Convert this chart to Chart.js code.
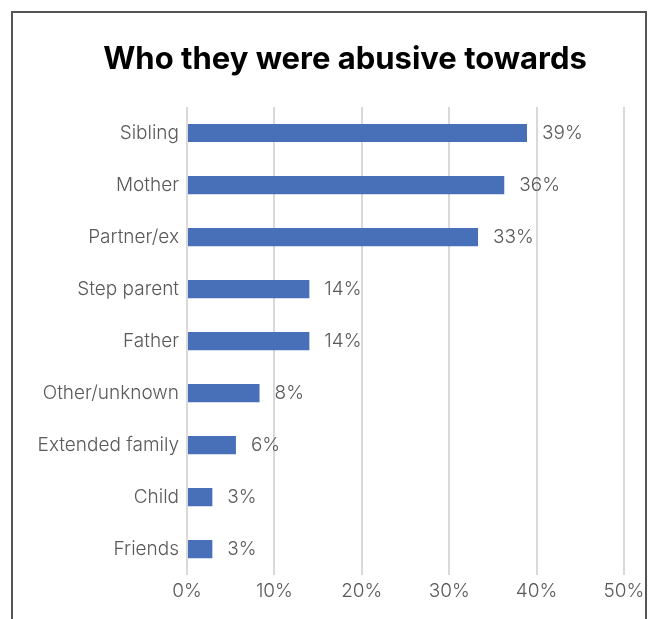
<!DOCTYPE html>
<html>
<head>
<meta charset="utf-8">
<script src="https://cdn.jsdelivr.net/npm/chart.js@4/dist/chart.umd.min.js"></script>
<style>
  html, body { margin: 0; padding: 0; background: #fff; }
  #wrap { position: relative; width: 651px; height: 619px; }
</style>
</head>
<body>
<div id="wrap"><canvas id="c" width="651" height="619"></canvas></div>
<script>
const titleText = "Who they were abusive towards";
const categories = ["Sibling", "Mother", "Partner/ex", "Step parent", "Father", "Other/unknown", "Extended family", "Child", "Friends"];
const values = [38.9, 36.3, 33.3, 14.0, 14.0, 8.3, 5.6, 2.9, 2.9];
const valueLabels = ["39%", "36%", "33%", "14%", "14%", "8%", "6%", "3%", "3%"];
const xTicks = [0, 10, 20, 30, 40, 50];

const labelFont = "'Inter', 'Roboto', sans-serif";
const grey = "#595959";

const valueLabelPlugin = {
  id: "valueLabels",
  afterDatasetsDraw(chart) {
    const ctx = chart.ctx;
    const meta = chart.getDatasetMeta(0);
    ctx.save();
    ctx.font = "300 19px " + labelFont;
    ctx.fillStyle = grey;
    ctx.textAlign = "left";
    ctx.textBaseline = "middle";
    meta.data.forEach((bar, i) => {
      ctx.fillText(valueLabels[i], bar.x + 15, bar.y);
    });
    ctx.restore();
  }
};

const titleFramePlugin = {
  id: "titleFrame",
  afterDraw(chart) {
    const ctx = chart.ctx;
    ctx.save();
    ctx.strokeStyle = "#555";
    ctx.lineWidth = 2;
    ctx.beginPath();
    ctx.moveTo(12, 619);
    ctx.lineTo(12, 12);
    ctx.lineTo(646, 12);
    ctx.lineTo(646, 619);
    ctx.stroke();
    ctx.font = "bold 31px " + labelFont;
    ctx.fillStyle = "#000";
    ctx.textAlign = "center";
    ctx.textBaseline = "middle";
    ctx.fillText(titleText, 345, 60);
    ctx.restore();
  }
};

new Chart(document.getElementById("c"), {
  type: "bar",
  data: {
    labels: categories,
    datasets: [{
      data: values,
      backgroundColor: "#4870B8",
      borderWidth: 0,
      barPercentage: 0.7,
      categoryPercentage: 0.5
    }]
  },
  options: {
    indexAxis: "y",
    responsive: false,
    animation: false,
    layout: { padding: { left: 0, right: 27, top: 107, bottom: 11 } },
    plugins: {
      legend: { display: false },
      tooltip: { enabled: false },
      title: { display: false }
    },
    scales: {
      x: {
        min: 0,
        max: 50,
        afterBuildTicks(scale) { scale.ticks = xTicks.map(v => ({ value: v })); },
        grid: { color: "#d9d9d9", lineWidth: 2, drawTicks: false },
        border: { display: false },
        ticks: {
          color: grey,
          font: { family: labelFont, size: 19, weight: 300 },
          padding: 5,
          maxRotation: 0,
          callback: (v) => v + "%"
        }
      },
      y: {
        afterFit(scale) { scale.width = 187; },
        grid: { display: false, drawTicks: false },
        border: { display: false },
        ticks: {
          color: grey,
          font: { family: labelFont, size: 19, weight: 300 },
          padding: 8
        }
      }
    }
  },
  plugins: [valueLabelPlugin, titleFramePlugin]
});
</script>
</body>
</html>
